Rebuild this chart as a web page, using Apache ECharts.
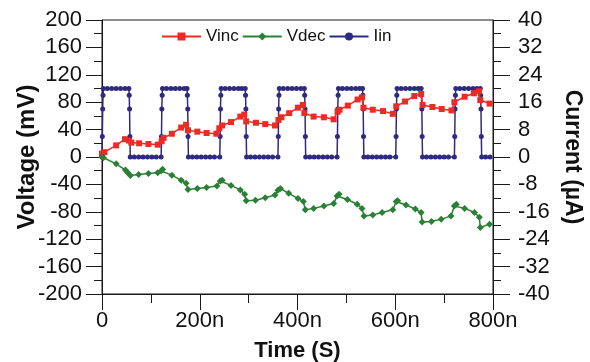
<!DOCTYPE html>
<html>
<head>
<meta charset="utf-8">
<script src="https://cdn.jsdelivr.net/npm/echarts@6/dist/echarts.min.js"></script>
<style>
  html, body { margin: 0; padding: 0; background: #fff; }
  #chart { width: 590px; height: 362px; }
</style>
</head>
<body>
<div id="chart"></div>
<script>
// Time in ns, voltages in mV, current in µA
const seriesNames = ['Vinc', 'Vdec', 'Iin'];

const vincPoints = [
  [0,5],[5,7],[29,17],[47,26],[55,24],[60,21],[76,20],[95,19],[114,18],[122,23],[126,28],
  [143,34],[162,43],[172,47],[176,39],[195,37],[214,35],[234,34],[240,42],[246,46],[264,51],
  [283,59],[291,62],[295,52],[315,50],[334,48],[354,46],[361,54],[367,58],[383,64],[401,72],
  [411,76],[414,64],[433,59],[454,58],[474,55],[482,66],[486,69],[503,75],[523,84],[532,87],
  [535,72],[554,69],[575,67],[595,63],[602,74],[620,81],[639,89],[653,92],[656,76],[676,73],
  [695,70],[715,68],[721,80],[742,88],[761,93],[771,96],[774,83],[793,78]
];

const vdecPoints = [
  [0,0],[3,-1],[29,-10],[48,-19],[53,-23],[58,-27],[75,-25.5],[95,-24],[114,-23],[121,-20.5],
  [124,-18],[143,-26.5],[162,-34],[172,-38.5],[176,-47.5],[195,-46],[214,-44.5],[235,-42.5],
  [242,-35],[246,-34],[264,-41.5],[283,-48],[292,-54.5],[295,-64],[314,-63],[334,-59.5],
  [354,-55.5],[360,-48.5],[365,-46],[382,-53],[401,-60.5],[412,-65],[416,-77],[433,-75],
  [454,-71.5],[474,-68],[481,-57],[485,-54.5],[502,-62],[522,-69],[532,-75],[536,-86],
  [554,-84.5],[573,-81],[595,-77],[602,-65],[605,-64],[622,-70],[641,-76],[653,-81],[655,-95],
  [674,-94],[694,-91],[714,-86],[721,-71.5],[725,-69],[742,-75],[762,-81],[772,-88],[774,-103],
  [793,-98]
];

const iinPoints = [
  [0,0],[0.7,6],[1.4,14],[2.1,18],[2.8,20],[11,20],[20,20],[29,20],[38,20],[47,20],[55,20],
  [55.7,18],[56.4,14],[57.1,6],[57.8,0],[66,0],[75,0],[84,0],[93,0],[102,0],[111,0],[121,0],
  [121.7,6],[122.4,14],[123.1,18],[123.8,20],[132,20],[141,20],[150,20],[159,20],[168,20],[174,20],
  [174.7,18],[175.4,14],[176.1,6],[176.8,0],[185,0],[194,0],[203,0],[212,0],[221,0],[230,0],[241,0],
  [241.7,6],[242.4,14],[243.1,18],[243.8,20],[252,20],[261,20],[270,20],[279,20],[286,20],[293,20],
  [293.7,18],[294.4,14],[295.1,6],[295.8,0],[304,0],[313,0],[322,0],[331,0],[340,0],[349,0],[360,0],
  [360.7,6],[361.4,14],[362.1,18],[362.8,20],[371,20],[380,20],[389,20],[398,20],[407,20],[414,20],
  [414.7,18],[415.4,14],[416.1,6],[416.8,0],[425,0],[434,0],[443,0],[452,0],[461,0],[470,0],[481,0],
  [481.7,6],[482.4,14],[483.1,18],[483.8,20],[492,20],[501,20],[510,20],[519,20],[527,20],[533,20],
  [533.7,18],[534.4,14],[535.1,6],[535.8,0],[544,0],[553,0],[562,0],[571,0],[580,0],[589,0],[601,0],
  [601.7,6],[602.4,14],[603.1,18],[603.8,20],[612,20],[621,20],[630,20],[639,20],[647,20],[653,20],
  [653.7,18],[654.4,14],[655.1,6],[655.8,0],[664,0],[673,0],[682,0],[691,0],[700,0],[709,0],[721,0],
  [721.7,6],[722.4,14],[723.1,18],[723.8,20],[732,20],[741,20],[750,20],[759,20],[767,20],[774,20],
  [774.7,18],[775.4,14],[776.1,6],[776.8,0],[785,0],[794,0]
];

const timeTicks = [0, 200, 400, 600, 800];
const voltageRange = [-200, 200];
const currentRange = [-40, 40];

const FONT = '"Liberation Sans", Arial, sans-serif';
const AXIS_COLOR = '#1a1a1a';
const COLORS = { Vinc: '#ee2a24', Vdec: '#2a8136', Iin: '#2f2a80' };

const chart = echarts.init(document.getElementById('chart'), null, { renderer: 'canvas' });

function tickStyle(len) {
  return { show: true, inside: false, length: len, lineStyle: { color: AXIS_COLOR, width: 1 } };
}

chart.setOption({
  animation: false,
  backgroundColor: '#fff',
  textStyle: { fontFamily: FONT },
  grid: {
    left: 102, right: 97, top: 20, bottom: 68,
    containLabel: false, outerBoundsMode: 'none',
    show: true, borderColor: AXIS_COLOR, borderWidth: 1, backgroundColor: 'transparent'
  },
  legend: {
    data: seriesNames,
    left: 161, top: 28, padding: 0,
    itemWidth: 39, itemHeight: 10, itemGap: 3,
    textStyle: { fontFamily: FONT, fontSize: 17, color: '#111', padding: [0, 0, 0, 0] }
  },
  xAxis: {
    type: 'value',
    min: timeTicks[0], max: timeTicks[timeTicks.length - 1], interval: 200,
    name: 'Time (S)', nameLocation: 'middle', nameGap: 46,
    nameTextStyle: { fontFamily: FONT, fontSize: 22, fontWeight: 'bold', color: '#111' },
    axisLine: { onZero: false, lineStyle: { color: AXIS_COLOR, width: 1 } },
    axisTick: tickStyle(16),
    minorTick: { show: true, splitNumber: 2, length: 9, lineStyle: { color: AXIS_COLOR, width: 1 } },
    splitLine: { show: false },
    axisLabel: {
      margin: 16, fontSize: 22, color: '#111', fontFamily: FONT,
      formatter: v => (v === 0 ? '0' : v + 'n')
    }
  },
  yAxis: [
    {
      type: 'value', position: 'left',
      min: voltageRange[0], max: voltageRange[1], interval: 40,
      name: 'Voltage (mV)', nameLocation: 'middle', nameGap: 63, nameMoveOverlap: false,
      nameTextStyle: { fontFamily: FONT, fontSize: 24, fontWeight: 'bold', color: '#111' },
      axisLine: { show: true, onZero: false, lineStyle: { color: AXIS_COLOR, width: 1 } },
      axisTick: tickStyle(16),
      minorTick: { show: true, splitNumber: 2, length: 8, lineStyle: { color: AXIS_COLOR, width: 1 } },
      splitLine: { show: false },
      axisLabel: { margin: 20, fontSize: 22, color: '#111', fontFamily: FONT }
    },
    {
      type: 'value', position: 'right',
      min: currentRange[0], max: currentRange[1], interval: 8,
      name: 'Current (\u00b5A)', nameLocation: 'middle', nameGap: 66, nameRotate: -90,
      nameTextStyle: { fontFamily: FONT, fontSize: 23, fontWeight: 'bold', color: '#111' },
      axisLine: { show: true, onZero: false, lineStyle: { color: AXIS_COLOR, width: 1 } },
      axisTick: tickStyle(17),
      minorTick: { show: true, splitNumber: 2, length: 8, lineStyle: { color: AXIS_COLOR, width: 1 } },
      splitLine: { show: false },
      axisLabel: { margin: 25, fontSize: 22, color: '#111', fontFamily: FONT }
    }
  ],
  series: [
    {
      name: 'Vinc', type: 'line', yAxisIndex: 0, z: 3,
      data: vincPoints,
      color: COLORS.Vinc,
      symbol: 'rect', symbolSize: 6,
      lineStyle: { width: 1.5, color: COLORS.Vinc },
      itemStyle: { color: COLORS.Vinc }
    },
    {
      name: 'Vdec', type: 'line', yAxisIndex: 0, z: 3,
      data: vdecPoints,
      color: COLORS.Vdec,
      symbol: 'diamond', symbolSize: 7,
      lineStyle: { width: 1.5, color: COLORS.Vdec },
      itemStyle: { color: COLORS.Vdec }
    },
    {
      name: 'Iin', type: 'line', yAxisIndex: 1, z: 2,
      data: iinPoints,
      color: COLORS.Iin,
      symbol: 'circle', symbolSize: 5,
      lineStyle: { width: 1.5, color: COLORS.Iin },
      itemStyle: { color: COLORS.Iin }
    }
  ]
});
</script>
</body>
</html>
